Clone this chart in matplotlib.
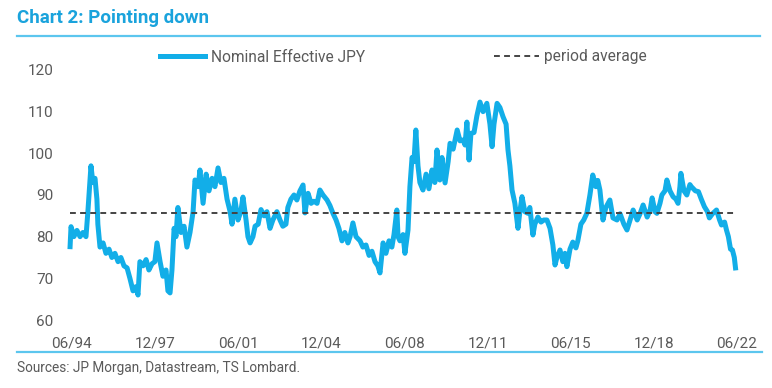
import matplotlib
matplotlib.use("Agg")
import matplotlib.pyplot as plt
from matplotlib.lines import Line2D

# Nominal effective JPY (decimal year, index level)
years = [
    1994.42, 1994.46, 1994.58, 1994.71, 1994.84, 1994.96, 1995.09, 1995.17, 1995.30, 1995.38,
    1995.47, 1995.55, 1995.59, 1995.68, 1995.81, 1995.93, 1996.06, 1996.18, 1996.31, 1996.44,
    1996.56, 1996.69, 1996.82, 1996.94, 1997.07, 1997.19, 1997.28, 1997.36, 1997.49, 1997.62,
    1997.74, 1997.87, 1997.99, 1998.08, 1998.21, 1998.33, 1998.46, 1998.54, 1998.63, 1998.71,
    1998.80, 1998.88, 1998.96, 1999.09, 1999.22, 1999.34, 1999.47, 1999.60, 1999.68, 1999.81,
    1999.89, 2000.02, 2000.15, 2000.27, 2000.40, 2000.52, 2000.65, 2000.77, 2000.90, 2001.03,
    2001.16, 2001.24, 2001.36, 2001.49, 2001.61, 2001.70, 2001.83, 2001.91, 2002.00, 2002.12,
    2002.21, 2002.34, 2002.46, 2002.59, 2002.71, 2002.84, 2002.96, 2003.13, 2003.26, 2003.38,
    2003.51, 2003.59, 2003.72, 2003.85, 2003.97, 2004.10, 2004.23, 2004.31, 2004.44, 2004.57,
    2004.69, 2004.82, 2004.94, 2005.07, 2005.24, 2005.36, 2005.49, 2005.62, 2005.74, 2005.87,
    2005.99, 2006.12, 2006.21, 2006.33, 2006.46, 2006.63, 2006.75, 2006.88, 2007.01, 2007.13,
    2007.26, 2007.38, 2007.47, 2007.60, 2007.72, 2007.85, 2007.97, 2008.06, 2008.18, 2008.23,
    2008.31, 2008.44, 2008.52, 2008.65, 2008.73, 2008.82, 2008.90, 2008.98, 2009.07, 2009.15,
    2009.28, 2009.41, 2009.53, 2009.66, 2009.78, 2009.87, 2009.99, 2010.08, 2010.21, 2010.34,
    2010.42, 2010.55, 2010.72, 2010.84, 2010.97, 2011.05, 2011.13, 2011.22, 2011.30, 2011.43,
    2011.55, 2011.68, 2011.81, 2011.97, 2012.10, 2012.19, 2012.27, 2012.40, 2012.52, 2012.65,
    2012.78, 2012.86, 2012.94, 2013.03, 2013.15, 2013.28, 2013.36, 2013.45, 2013.57, 2013.70,
    2013.78, 2013.91, 2013.99, 2014.12, 2014.25, 2014.37, 2014.50, 2014.63, 2014.75, 2014.84,
    2014.92, 2015.05, 2015.17, 2015.26, 2015.34, 2015.47, 2015.59, 2015.72, 2015.80, 2015.93,
    2016.05, 2016.18, 2016.31, 2016.43, 2016.56, 2016.64, 2016.73, 2016.86, 2016.98, 2017.15,
    2017.28, 2017.45, 2017.58, 2017.74, 2017.87, 2018.00, 2018.13, 2018.30, 2018.42, 2018.55,
    2018.72, 2018.85, 2018.93, 2019.05, 2019.13, 2019.26, 2019.34, 2019.47, 2019.55, 2019.68,
    2019.81, 2019.93, 2020.02, 2020.10, 2020.14, 2020.27, 2020.39, 2020.52, 2020.58, 2020.75,
    2020.88, 2021.00, 2021.13, 2021.26, 2021.34, 2021.47, 2021.64, 2021.77, 2021.85, 2021.98,
    2022.06, 2022.14, 2022.23, 2022.31, 2022.39, 2022.44,
]
neer = [
    77.6, 82.4, 80.0, 81.5, 80.0, 81.0, 80.0, 86.0, 97.0, 93.0,
    94.0, 89.0, 83.0, 77.5, 78.5, 76.0, 77.0, 75.0, 76.0, 74.0,
    75.0, 73.0, 72.5, 70.0, 67.0, 68.0, 66.0, 74.0, 73.0, 74.5,
    72.0, 73.5, 74.0, 78.5, 74.0, 70.5, 72.0, 67.0, 66.5, 72.0,
    82.0, 80.0, 87.0, 81.0, 82.5, 77.5, 81.0, 86.0, 93.6, 92.0,
    96.0, 88.0, 95.0, 91.0, 94.0, 92.0, 96.5, 93.0, 94.0, 89.0,
    86.0, 83.0, 89.0, 84.0, 86.0, 89.5, 84.0, 80.0, 78.5, 80.0,
    82.5, 83.0, 86.5, 85.0, 86.0, 82.0, 84.0, 86.0, 84.0, 82.5,
    83.0, 87.0, 89.0, 90.0, 88.8, 91.0, 92.4, 85.7, 90.4, 88.0,
    88.5, 88.0, 91.2, 90.0, 88.8, 87.5, 85.6, 84.0, 82.0, 79.0,
    81.0, 78.5, 80.0, 83.3, 80.0, 79.0, 77.5, 78.0, 75.5, 76.5,
    74.0, 73.0, 71.3, 78.5, 76.0, 79.0, 77.5, 80.5, 86.4, 80.0,
    79.0, 80.5, 76.0, 81.6, 92.0, 99.0, 98.0, 105.6, 97.0, 93.0,
    91.2, 95.0, 91.5, 96.0, 93.0, 100.8, 93.6, 99.0, 92.9, 98.0,
    102.4, 101.0, 105.6, 103.0, 103.2, 102.0, 107.5, 98.4, 104.8, 105.0,
    109.0, 112.3, 110.0, 112.0, 107.0, 101.6, 107.0, 112.0, 111.0, 108.8,
    107.0, 100.8, 97.0, 91.2, 88.0, 82.0, 86.0, 89.6, 86.0, 85.6,
    87.0, 80.4, 83.0, 84.7, 83.5, 84.0, 84.0, 82.0, 78.0, 73.2,
    75.0, 76.8, 74.0, 76.0, 72.8, 77.0, 78.7, 77.3, 79.0, 83.0,
    84.0, 85.6, 90.0, 94.8, 92.0, 93.5, 91.2, 84.0, 87.0, 88.8,
    84.5, 84.0, 85.5, 83.0, 81.6, 84.0, 86.4, 84.0, 85.5, 87.6,
    84.7, 86.5, 89.3, 86.0, 85.6, 88.0, 90.0, 91.0, 93.6, 91.0,
    89.6, 89.0, 88.0, 92.0, 95.2, 91.0, 90.0, 92.5, 92.0, 91.0,
    90.8, 89.0, 87.2, 86.0, 84.5, 85.5, 86.4, 84.0, 82.8, 83.5,
    81.6, 80.0, 77.0, 76.8, 75.0, 72.5,
]
period_avg = 85.7

tick_years = [1994.5, 1998.0, 2001.5, 2005.0, 2008.5, 2012.0, 2015.5, 2019.0, 2022.5]
tick_labels = ["06/94", "12/97", "06/01", "12/04", "06/08", "12/11", "06/15", "12/18", "06/22"]
y_ticks = [60, 70, 80, 90, 100, 110, 120]

BLUE = "#12AEE8"
TITLE = "#1AA3DC"
RULE = "#5CC6EE"
GREY = "#5A5A5A"

plt.rcParams["font.family"] = ["Roboto", "DejaVu Sans"]

W, H = 772, 388
fig = plt.figure(figsize=(W / 100, H / 100), dpi=100)
ax = fig.add_axes([62 / W, 68 / H, (745 - 62) / W, 250 / H])

ax.plot(years, neer, color=BLUE, lw=3.6, solid_joinstyle="round",
        label="Nominal Effective JPY")
ax.plot([years[0], years[-1]], [period_avg, period_avg], color="#444444",
        lw=1.4, linestyle=(0, (3, 2.2)), label="period average")

ax.set_xlim(1994.08, 2022.84)
ax.set_ylim(60, 120)
ax.set_xticks(tick_years)
ax.set_xticklabels(tick_labels)
ax.set_yticks(y_ticks)
ax.tick_params(axis="both", length=0, labelsize=11, colors=GREY)
ax.tick_params(axis="x", pad=12)
ax.tick_params(axis="y", pad=6)
for s in ax.spines.values():
    s.set_visible(False)

fig.legend(loc="center left", bbox_to_anchor=(160 / W, 1 - 57 / H), ncol=2,
           frameon=False, fontsize=11.2, handlelength=2.9, handletextpad=0.35,
           columnspacing=8.3, borderpad=0, borderaxespad=0, labelcolor=GREY)

# title and rules
fig.text(17 / W, 1 - 18 / H, "Chart 2: Pointing down", color=TITLE,
         fontsize=13.5, fontweight="bold", va="center", ha="left")
fig.add_artist(Line2D([17 / W, 760 / W], [1 - 36 / H, 1 - 36 / H],
                      transform=fig.transFigure, color=RULE, lw=1.6))
fig.add_artist(Line2D([17 / W, 762 / W], [1 - 352 / H, 1 - 352 / H],
                      transform=fig.transFigure, color=RULE, lw=1.6))
fig.text(17 / W, 1 - 368 / H, "Sources: JP Morgan, Datastream, TS Lombard.",
         color=GREY, fontsize=9.8, va="center", ha="left")

fig.savefig("out.png", dpi=100)
